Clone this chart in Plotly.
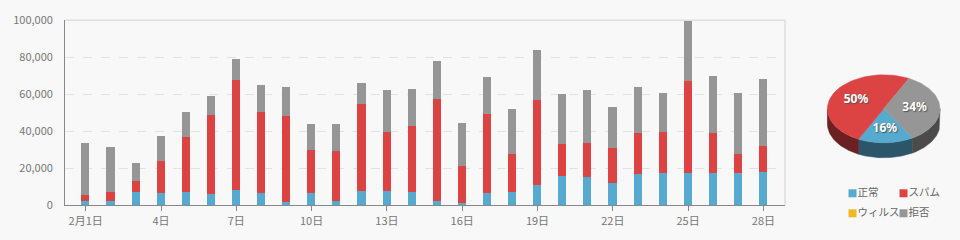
import math
import plotly.graph_objects as go

# ---------------- data ----------------
days = list(range(1, 29))
normal = [2.3, 2.3, 7.2, 6.7, 7.2, 6.1, 8.3, 6.7, 1.8, 6.7,
          2.3, 7.7, 7.7, 7.2, 2.3, 1.3, 6.7, 7.2, 11.0, 15.9,
          15.3, 12.1, 16.9, 17.5, 17.5, 17.5, 17.5, 18.0]
spam = [3.3, 4.9, 6.0, 17.3, 29.7, 42.7, 59.4, 43.8, 46.5, 23.2,
        27.1, 47.1, 31.9, 35.7, 55.2, 20.0, 42.7, 20.5, 45.9, 17.3,
        18.4, 18.9, 22.2, 22.1, 49.7, 21.6, 10.2, 14.1]
virus = [0] * 28
reject = [28.1, 24.3, 9.7, 13.5, 13.6, 10.3, 11.4, 14.5, 15.7, 14.1,
          14.6, 11.3, 22.7, 20.0, 20.5, 23.2, 20.0, 24.4, 27.1, 27.0,
          28.6, 22.2, 24.9, 21.1, 32.4, 30.8, 33.0, 36.2]
# values above are in thousands
normal = [v * 1000 for v in normal]
spam = [v * 1000 for v in spam]
reject = [v * 1000 for v in reject]

series_names = ["正常", "スパム", "ウィルス", "拒否"]
pie_shares = [16, 50, 0, 34]
x_tickvals = [1, 4, 7, 10, 13, 16, 19, 22, 25, 28]
x_ticktext = ["2月1日", "4日", "7日", "10日", "13日", "16日", "19日", "22日", "25日", "28日"]
y_tickvals = [0, 20000, 40000, 60000, 80000, 100000]

# ---------------- style ----------------
colors = ["#56aad0", "#dc4444", "#f0b823", "#969696"]
side_colors = ["#2c5569", "#6b2121", "#7a5c12", "#4b4b4b"]
bg = "#f8f8f8"
W, H = 960, 240

fig = go.Figure()

for name, vals, col in zip(series_names, [normal, spam, virus, reject], colors):
    fig.add_trace(go.Bar(x=days, y=vals, name=name, marker=dict(color=col, line=dict(width=0)),
                         width=0.32, showlegend=False))

# ---------------- 3D pie (on pixel-scaled axes) ----------------
cx, cy, rx, ry, depth = 883.7, 108.8, 56.3, 34.0, 15.0
start = 301.0
total = sum(pie_shares)

def arc(t0, t1, dy=0.0, n=60):
    pts = []
    for i in range(n + 1):
        t = math.radians(t0 + (t1 - t0) * i / n)
        pts.append((cx + rx * math.cos(t), cy - ry * math.sin(t) + dy))
    return pts

slices = []
t = start
for share in pie_shares:
    span = 360.0 * share / total
    slices.append((t, t - span))
    t -= span

# sides (front half: angles 180..360)
for (a0, a1), sc, share in zip(slices, side_colors, pie_shares):
    if share == 0:
        continue
    lo, hi = min(a0, a1), max(a0, a1)
    for shift in (-360, 0, 360):
        s_lo, s_hi = max(lo + shift, 180), min(hi + shift, 360)
        if s_hi > s_lo:
            top = arc(s_lo, s_hi)
            bot = arc(s_hi, s_lo, dy=depth)
            pts = top + bot + [top[0]]
            fig.add_trace(go.Scatter(x=[p[0] for p in pts], y=[p[1] for p in pts],
                                     mode="lines", fill="toself", fillcolor=sc,
                                     line=dict(color=sc, width=0.5), hoverinfo="skip",
                                     showlegend=False, xaxis="x2", yaxis="y2"))

# top faces
for (a0, a1), c, share in zip(slices, colors, pie_shares):
    if share == 0:
        continue
    pts = [(cx, cy)] + arc(a0, a1) + [(cx, cy)]
    fig.add_trace(go.Scatter(x=[p[0] for p in pts], y=[p[1] for p in pts],
                             mode="lines", fill="toself", fillcolor=c,
                             line=dict(color=c, width=0.5), hoverinfo="skip",
                             showlegend=False, xaxis="x2", yaxis="y2"))

# percentage labels
lx, ly, lt = [], [], []
for (a0, a1), share in zip(slices, pie_shares):
    if share == 0:
        continue
    m = math.radians((a0 + a1) / 2)
    lx.append(cx + 0.55 * rx * math.cos(m))
    ly.append(cy - 0.6 * ry * math.sin(m))
    lt.append(f"{share}%")
fig.add_trace(go.Scatter(x=lx, y=ly, mode="text", text=lt,
                         textfont=dict(color="white", size=12, family="Noto Sans", weight="bold",
                                       shadow="1px 1px 1px #555"),
                         hoverinfo="skip", showlegend=False, xaxis="x2", yaxis="y2"))

# legend (2 x 2)
leg_x = [852.5, 903.5, 852.5, 903.5]
leg_y = [193.3, 193.3, 213.3, 213.3]
fig.add_trace(go.Scatter(x=leg_x, y=leg_y, mode="markers",
                         marker=dict(symbol="square", size=8, color=colors, line=dict(width=0)),
                         hoverinfo="skip", showlegend=False, xaxis="x2", yaxis="y2"))
fig.add_trace(go.Scatter(x=[v + 5 for v in leg_x], y=leg_y, mode="text", text=series_names,
                         textposition="middle right",
                         textfont=dict(color="#666", size=10.5, family="Noto Sans CJK JP"),
                         hoverinfo="skip", showlegend=False, xaxis="x2", yaxis="y2"))

# ---------------- layout ----------------
x0, x1 = 65.3, 785.0
ytop, ybot = 20.3, 205.3
day_px = 25.1
first_px = 85.7
xr = [1 - (first_px - x0) / day_px, 1 + (x1 - first_px) / day_px]

fig.update_layout(
    width=W, height=H,
    margin=dict(l=0, r=0, t=0, b=0),
    paper_bgcolor=bg, plot_bgcolor="rgba(0,0,0,0)",
    barmode="stack", bargap=0,
    font=dict(family="Noto Sans CJK JP, DejaVu Sans", size=11, color="#777"),
    xaxis=dict(domain=[x0 / W, x1 / W], range=xr, tickvals=x_tickvals, ticktext=x_ticktext,
               showgrid=False, zeroline=False, showline=True, linecolor="#888", linewidth=1.3,
               ticks="outside", ticklen=5, tickcolor="#888", tickwidth=1,
               tickfont=dict(size=11, color="#777"), automargin=False, fixedrange=True),
    yaxis=dict(domain=[(H - ybot) / H, (H - ytop) / H], range=[0, 100000],
               tickvals=y_tickvals, tickformat=",", showgrid=True, gridcolor="#e2e2e2",
               griddash="dash", gridwidth=1, zeroline=False, showline=True, linecolor="#888",
               linewidth=1.3, ticks="", ticklabelstandoff=9,
               tickfont=dict(size=11, color="#777"), automargin=False, fixedrange=True),
    xaxis2=dict(domain=[800 / W, 1], range=[800, 960], visible=False, fixedrange=True),
    yaxis2=dict(domain=[0, 1], range=[240, 0], visible=False, fixedrange=True, anchor="x2"),
    shapes=[
        dict(type="line", xref="paper", yref="paper", x0=x0 / W, x1=x1 / W,
             y0=(H - ytop) / H, y1=(H - ytop) / H, line=dict(color="#dedede", width=1.5)),
        dict(type="line", xref="paper", yref="paper", x0=x1 / W, x1=x1 / W,
             y0=(H - ytop) / H, y1=(H - ybot) / H, line=dict(color="#dedede", width=1.5)),
    ],
)
fig.update_layout(xaxis2_anchor="y2")

fig.write_html("out.html")
